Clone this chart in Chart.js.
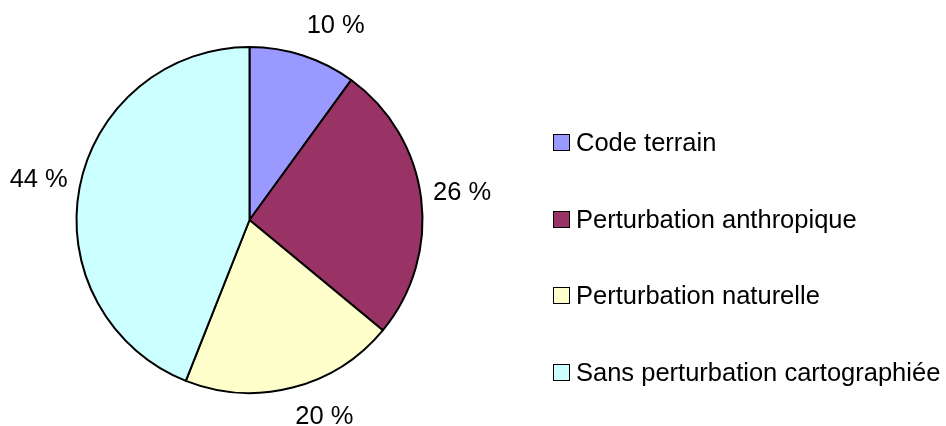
<!DOCTYPE html>
<html>
<head>
<meta charset="utf-8">
<script src="https://cdn.jsdelivr.net/npm/chart.js@4.4.1/dist/chart.umd.min.js"></script>
<style>
  body { margin: 0; background: #fff; }
  #wrap { position: relative; width: 946px; height: 426px; }
  #legend { position: absolute; left: 553px; top: 104px; font: 25.5px "Liberation Sans", Arial, sans-serif; color: #000; }
  .item { height: 76.7px; display: flex; align-items: center; white-space: nowrap; }
  .box { width: 15px; height: 15px; border: 1px solid #000; margin-right: 6px; flex: none; }
</style>
</head>
<body>
<div id="wrap">
  <canvas id="pieChart" width="946" height="426"></canvas>
  <div id="legend"></div>
</div>
<script>
const categories = ['Code terrain', 'Perturbation anthropique', 'Perturbation naturelle', 'Sans perturbation cartographiée'];
const shares = [10, 26, 20, 44];
const colors = ['#9999ff', '#993366', '#ffffcc', '#ccffff'];

const FONT = '25.5px "Liberation Sans", Arial, sans-serif';

// percentage labels outside the slices, Excel style
const outsideLabels = {
  id: 'outsideLabels',
  afterDatasetsDraw(c) {
    const ctx = c.ctx;
    const meta = c.getDatasetMeta(0);
    const clamp = (v) => Math.max(-1, Math.min(1, v));
    ctx.save();
    ctx.font = FONT;
    ctx.fillStyle = '#000';
    ctx.textAlign = 'center';
    ctx.textBaseline = 'middle';
    meta.data.forEach((arc, i) => {
      const p = arc.getProps(['x', 'y', 'startAngle', 'endAngle', 'outerRadius'], true);
      const mid = (p.startAngle + p.endAngle) / 2;
      const r = p.outerRadius + 12;
      const txt = shares[i] + ' %';
      const w = ctx.measureText(txt).width;
      const h = 36;
      const ax = p.x + Math.cos(mid) * r;
      const ay = p.y + Math.sin(mid) * r;
      const x = ax + (w / 2) * clamp(4 * Math.cos(mid));
      const y = ay + (h / 2) * clamp(1.5 * Math.sin(mid));
      ctx.fillText(txt, x, y);
    });
    ctx.restore();
  }
};

new Chart(document.getElementById('pieChart'), {
  type: 'pie',
  data: {
    labels: categories,
    datasets: [{
      data: shares,
      backgroundColor: colors,
      borderColor: '#000',
      borderWidth: 2
    }]
  },
  options: {
    responsive: false,
    animation: false,
    layout: { padding: { left: 75, right: 522, top: 46, bottom: 32 } },
    plugins: {
      legend: { display: false },
      tooltip: { enabled: false }
    }
  },
  plugins: [outsideLabels]
});

document.getElementById('legend').innerHTML = categories.map((name, i) =>
  `<div class="item"><span class="box" style="background:${colors[i]}"></span>${name}</div>`
).join('');
</script>
</body>
</html>
